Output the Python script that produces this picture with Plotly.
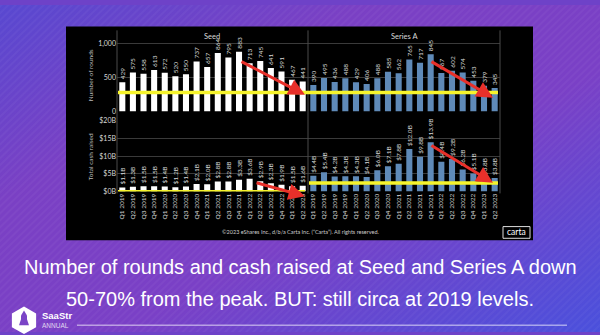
import base64
import plotly.graph_objects as go

# ---------------- data ----------------
quarters = ["Q1 2019", "Q2 2019", "Q3 2019", "Q4 2019",
            "Q1 2020", "Q2 2020", "Q3 2020", "Q4 2020",
            "Q1 2021", "Q2 2021", "Q3 2021", "Q4 2021",
            "Q1 2022", "Q2 2022", "Q3 2022", "Q4 2022",
            "Q1 2023", "Q2 2023"]
seed_rounds = [429, 575, 558, 613, 572, 520, 550, 737, 657, 864, 795, 883,
               713, 745, 641, 591, 467, 441]
seriesA_rounds = [390, 495, 436, 488, 429, 406, 488, 585, 562, 765, 717, 845,
                  567, 602, 574, 453, 379, 345]
seed_cash = [1.1, 1.3, 1.5, 1.5, 1.4, 1.2, 1.4, 2.1, 2.0, 2.8, 2.8, 3.3,
             3.6, 2.9, 2.3, 1.9, 1.5, 1.6]
seriesA_cash = [4.4, 5.4, 4.2, 4.3, 4.3, 4.1, 6.0, 7.1, 7.8, 12.0, 9.8, 13.9,
                8.4, 9.2, 6.2, 5.1, 3.8, 3.8]
round_tickvals = [0, 500, 1000]
round_ticktext = ["0", "500", "1,000"]
cash_tickvals = [0, 5, 10, 15, 20]
cash_ticktext = ["$0B", "$5B", "$10B", "$15B", "$20B"]
panel_titles = ["Seed", "Series A"]
headline = ["Number of rounds and cash raised at Seed and Series A down",
            "50-70% from the peak. BUT: still circa at 2019 levels."]

# reference levels for hand-drawn overlays (data units)
round_ref_level = 280
seed_cash_ref_level = -0.1
seriesA_cash_ref_level = 2.4

W, H = 600, 335


def px(x):
    return x / W


def py(y):
    return 1 - y / H


CHART_FONT = "Lato, Open Sans, sans-serif"
SEED_COLOR = "#ffffff"
A_COLOR = "#5f8ab8"
LBL = "#d8d8d8"
GRID = "#3a3a3a"

fig = go.Figure()


def add_bars(vals, texts, color, xa, ya):
    fig.add_trace(go.Bar(
        x=quarters, y=vals, text=texts, textposition="outside",
        textangle=-90, constraintext="none", cliponaxis=False,
        textfont=dict(size=6.5, color=LBL, family=CHART_FONT),
        marker=dict(color=color, line=dict(width=0)),
        xaxis=xa, yaxis=ya, showlegend=False, hoverinfo="skip"))


add_bars(seed_rounds, [str(v) for v in seed_rounds], SEED_COLOR, "x", "y")
add_bars(seriesA_rounds, [str(v) for v in seriesA_rounds], A_COLOR, "x2", "y2")
add_bars(seed_cash, [f"${v:.1f}B" for v in seed_cash], SEED_COLOR, "x3", "y3")
add_bars(seriesA_cash, [f"${v:.1f}B" for v in seriesA_cash], A_COLOR, "x4", "y4")

seed_dom = [px(117), px(308)]
a_dom = [px(308), px(500)]
top_dom = [py(109), py(25.8)]
bot_dom = [py(191), py(118.5)]

xcommon = dict(type="category", categoryorder="array", categoryarray=quarters,
               showgrid=False, zeroline=False, showline=False, ticks="",
               fixedrange=True)
xlabels = dict(showticklabels=True, tickangle=-90,
               tickfont=dict(size=6.5, color=LBL, family=CHART_FONT))

ycommon = dict(showgrid=True, gridcolor=GRID, gridwidth=1, zeroline=False,
               showline=False, ticks="", fixedrange=True,
               tickfont=dict(size=7, color=LBL, family=CHART_FONT))

fig.update_layout(
    xaxis=dict(domain=seed_dom, anchor="y", showticklabels=False, **xcommon),
    xaxis2=dict(domain=a_dom, anchor="y2", showticklabels=False, **xcommon),
    xaxis3=dict(domain=seed_dom, anchor="y3", **xlabels, **xcommon),
    xaxis4=dict(domain=a_dom, anchor="y4", **xlabels, **xcommon),
    yaxis=dict(domain=top_dom, anchor="x", range=[0, 1200],
               tickvals=round_tickvals, ticktext=round_ticktext, **ycommon),
    yaxis2=dict(domain=top_dom, anchor="x2", range=[0, 1200],
                tickvals=round_tickvals, showticklabels=False, **ycommon),
    yaxis3=dict(domain=bot_dom, anchor="x3", range=[0, 20],
                tickvals=cash_tickvals, ticktext=cash_ticktext, **ycommon),
    yaxis4=dict(domain=bot_dom, anchor="x4", range=[0, 20],
                tickvals=cash_tickvals, showticklabels=False, **ycommon),
    bargap=0.43,
)

# ---------------- background ----------------
svg = f'''<svg xmlns="http://www.w3.org/2000/svg" width="{W}" height="{H}" viewBox="0 0 {W} {H}" preserveAspectRatio="none">
<defs>
<linearGradient id="g" x1="0" y1="0" x2="1" y2="1">
<stop offset="0" stop-color="#5848d0"/>
<stop offset="0.3" stop-color="#7a40c4"/>
<stop offset="0.6" stop-color="#7a40c6"/>
<stop offset="1" stop-color="#4a50dc"/>
</linearGradient>
<pattern id="p" width="5" height="5" patternUnits="userSpaceOnUse" patternTransform="rotate(-45)">
<rect width="5" height="2" fill="white" fill-opacity="0.035"/>
</pattern>
</defs>
<rect width="{W}" height="{H}" fill="url(#g)"/>
<rect width="{W}" height="{H}" fill="url(#p)"/>
</svg>'''
uri = "data:image/svg+xml;base64," + base64.b64encode(svg.encode()).decode()
fig.add_layout_image(dict(source=uri, xref="paper", yref="paper", x=0, y=1,
                          sizex=1, sizey=1, sizing="stretch", layer="below",
                          xanchor="left", yanchor="top"))

shapes = []
# black chart panel
shapes.append(dict(type="rect", xref="paper", yref="paper", layer="below",
                   x0=px(66), x1=px(533), y0=py(241), y1=py(22),
                   fillcolor="#000000", line=dict(width=0)))
# facet borders
for xv in (117, 308, 500):
    shapes.append(dict(type="line", xref="paper", yref="paper", layer="above",
                       x0=px(xv), x1=px(xv), y0=py(193), y1=py(26),
                       line=dict(color="#4a4a4a", width=1)))
# yellow reference lines
shapes.append(dict(type="line", xref="paper", yref="y", x0=px(118), x1=px(498),
                   y0=round_ref_level, y1=round_ref_level,
                   line=dict(color="#f6f42c", width=3.5)))
shapes.append(dict(type="line", xref="paper", yref="y3", x0=px(118), x1=px(305),
                   y0=seed_cash_ref_level, y1=seed_cash_ref_level,
                   line=dict(color="#f6f42c", width=3.5)))
shapes.append(dict(type="line", xref="paper", yref="y4", x0=px(309), x1=px(498),
                   y0=seriesA_cash_ref_level, y1=seriesA_cash_ref_level,
                   line=dict(color="#f6f42c", width=3.5)))
# carta box
shapes.append(dict(type="rect", xref="paper", yref="paper",
                   x0=px(503), x1=px(530), y0=py(239), y1=py(227),
                   line=dict(color="#dddddd", width=1), fillcolor="rgba(0,0,0,0)"))
# bottom rule
shapes.append(dict(type="line", xref="paper", yref="paper",
                   x0=px(77), x1=px(567), y0=py(328), y1=py(328),
                   line=dict(color="rgba(255,255,255,0.75)", width=1)))
# SaaStr hexagon logo
cx, cy, r = 24, 323, 14
hexpts = [(cx, cy - r), (cx + 0.866 * r, cy - r / 2), (cx + 0.866 * r, cy + r / 2),
          (cx, cy + r), (cx - 0.866 * r, cy + r / 2), (cx - 0.866 * r, cy - r / 2)]
path = "M " + " L ".join(f"{px(a):.4f} {py(b):.4f}" for a, b in hexpts) + " Z"
shapes.append(dict(type="path", xref="paper", yref="paper", path=path,
                   fillcolor="#ffffff", line=dict(width=0)))
rocket = [(24, 313), (27, 318), (27, 326), (21, 326), (21, 318)]
path = "M " + " L ".join(f"{px(a):.4f} {py(b):.4f}" for a, b in rocket) + " Z"
shapes.append(dict(type="path", xref="paper", yref="paper", path=path,
                   fillcolor="#7a44c6", line=dict(width=0)))
fins = [(19, 328), (21, 322), (27, 322), (29, 328)]
path = "M " + " L ".join(f"{px(a):.4f} {py(b):.4f}" for a, b in fins) + " Z"
shapes.append(dict(type="path", xref="paper", yref="paper", path=path,
                   fillcolor="#7a44c6", line=dict(width=0)))
fig.update_layout(shapes=shapes)


def note(x, y, text, size, color, family=CHART_FONT, xanchor="center", angle=0):
    return dict(x=px(x), y=py(y), xref="paper", yref="paper", text=text,
                showarrow=False, xanchor=xanchor, yanchor="middle",
                textangle=angle, font=dict(size=size, color=color, family=family))


ann = []
ann.append(note(212, 32, panel_titles[0], 7.5, LBL))
ann.append(note(404, 32, panel_titles[1], 7.5, LBL))
ann.append(note(90, 72, "Number of rounds", 6.5, "#bbbbbb", angle=-90))
ann.append(note(90, 156, "Total cash raised", 6.5, "#bbbbbb", angle=-90))
ann.append(note(300, 232.5,
                "©2023 eShares Inc., d/b/a Carta Inc. (“Carta”). All rights reserved.",
                5.5, "#cccccc"))
ann.append(note(516.5, 232.5, "carta", 8.5, "#ffffff"))
# red arrows (head, tail offset in px)
for hx, hy, tx, ty in [(305, 92, 240, 58), (493, 95, 430, 58),
                       (305, 196, 255, 182), (493, 182, 430, 144)]:
    ann.append(dict(x=px(hx), y=py(hy), xref="paper", yref="paper", text="",
                    showarrow=True, ax=tx - hx, ay=ty - hy, arrowhead=2,
                    arrowsize=1.1, arrowwidth=3, arrowcolor="#e8302a"))
HEAD_FONT = "Liberation Sans, Arial"
ann.append(note(300, 268, headline[0], 20, "#ffffff", family=HEAD_FONT))
ann.append(note(300, 301, headline[1], 20, "#ffffff", family=HEAD_FONT))
ann.append(note(40, 318, "<b>SaaStr</b>", 9.5, "#ffffff", family=HEAD_FONT, xanchor="left"))
ann.append(note(40, 328, "ANNUAL", 6.5, "#e0d8f0", family=HEAD_FONT, xanchor="left"))
fig.update_layout(annotations=ann)

fig.update_layout(width=W, height=H, autosize=False,
                  margin=dict(l=0, r=0, t=0, b=0, pad=0),
                  paper_bgcolor="#6e42c8", plot_bgcolor="rgba(0,0,0,0)",
                  font=dict(family=CHART_FONT))

fig.write_html("out.html")
